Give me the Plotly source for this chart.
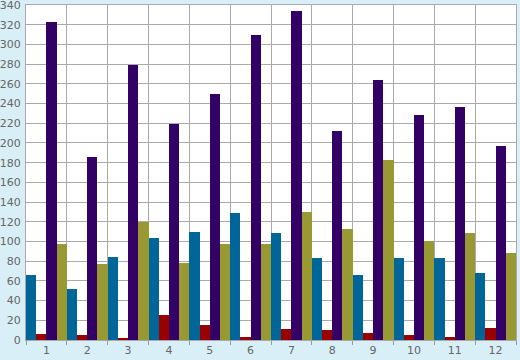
import plotly.graph_objects as go

categories = [str(i) for i in range(1, 13)]
blue_vals = [66, 52, 84, 104, 110, 129, 109, 83, 66, 83, 83, 68]
red_vals = [6, 5, 2, 25, 15, 3, 11, 10, 7, 5, 3, 12]
purple_vals = [323, 186, 279, 219, 250, 310, 334, 212, 264, 228, 237, 197]
olive_vals = [97, 77, 120, 78, 97, 97, 130, 113, 183, 100, 109, 88]
y_ticks = list(range(0, 341, 20))

series = [
    ("A", blue_vals, "#006699"),
    ("B", red_vals, "#990000"),
    ("C", purple_vals, "#330066"),
    ("D", olive_vals, "#999933"),
]

fig = go.Figure()
for name, vals, col in series:
    fig.add_trace(go.Bar(x=categories, y=vals, name=name, marker_color=col,
                         marker_line_width=0))

fig.update_layout(
    width=520, height=360,
    margin=dict(l=26, r=4, t=5, b=20, autoexpand=False),
    paper_bgcolor="#D9EFF7",
    plot_bgcolor="#FFFFFF",
    barmode="group", bargap=0, bargroupgap=0,
    showlegend=False,
    font=dict(family="DejaVu Sans", size=11, color="#666666"),
)
fig.update_xaxes(type="category", tickson="boundaries", ticks="outside",
                 ticklen=4, tickcolor="#999999", showgrid=True,
                 gridcolor="#AAAAAA", gridwidth=1, showline=True,
                 linecolor="#AAAAAA", mirror=True, automargin=False,
                 ticklabelstandoff=0)
fig.update_yaxes(range=[0, 340.05], tickmode="array", tickvals=y_ticks,
                 showgrid=True, gridcolor="#AAAAAA",
                 gridwidth=1, showline=True, linecolor="#AAAAAA", mirror=True,
                 ticks="", zeroline=False, automargin=False,
                 ticklabelstandoff=2, ticklabeloverflow="allow")
fig.write_html("out.html", config={"displayModeBar": False},
               post_script="document.body.style.margin='0';document.body.style.overflow='hidden';")
